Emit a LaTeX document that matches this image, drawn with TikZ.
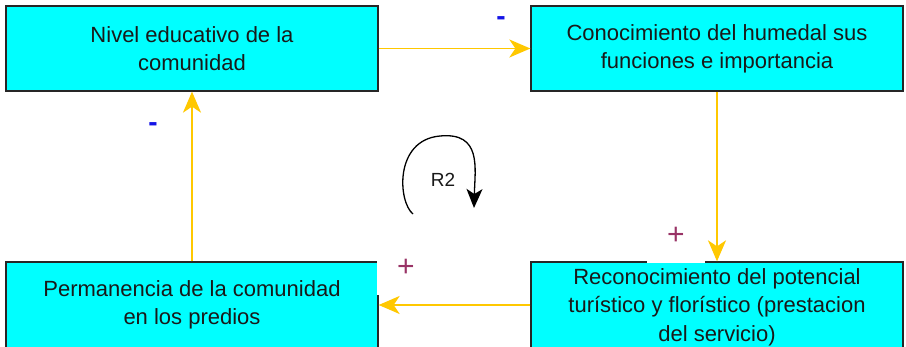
\documentclass[tikz,border=0pt]{standalone}
\usepackage{fontspec}
\setmainfont{Liberation Sans}
\usetikzlibrary{arrows.meta}
\definecolor{boxcyan}{RGB}{0,255,255}
\definecolor{linkyellow}{RGB}{255,200,0}
\definecolor{plusmag}{RGB}{153,51,102}
\definecolor{minusblue}{RGB}{20,20,230}
\begin{document}
\begin{tikzpicture}[x=1pt,y=-1pt,
  varbox/.style={draw=black!85, line width=1.3pt, fill=boxcyan, minimum width=372pt,
    inner sep=0pt, align=center, text=black!90,
    font=\fontsize{22}{28}\selectfont},
  link/.style={draw=linkyellow, line width=1.6pt, -{Stealth[length=21pt,width=18pt,inset=6pt]}},
  plussign/.style={fill=white, minimum width=58pt, minimum height=54pt, inner sep=0pt,
    text=plusmag, font=\fontsize{30}{30}\selectfont},
  minussign/.style={inner sep=0pt, text=minusblue, font=\bfseries\fontsize{28}{28}\selectfont},
  loopline/.style={draw=black, line width=1.3pt, -{Stealth[length=19pt,width=16pt,inset=5pt]}}
]
\useasboundingbox (0,0) rectangle (906,347);
\node[varbox, minimum height=85pt] (tl) at (192,48.5) {Nivel educativo de la\\comunidad};
\node[varbox, minimum height=85pt] (tr) at (717,48.5) {Conocimiento del humedal sus\\funciones e importancia};
\node[varbox, minimum height=86pt] (bl) at (192,305) {Permanencia de la comunidad\\en los predios};
\node[varbox, minimum height=86pt] (br) at (717,305) {};
\node[align=center, text=black!90, font=\fontsize{22}{28.5}\selectfont, inner sep=0pt] (brtext) at (717,307)
  {Reconocimiento del potencial\\tur\'istico y flor\'istico (prestacion\\del servicio)};
\draw[link] (tl.east) -- (tr.west);
\draw[link] (tr.south) -- (br.north);
\draw[link] (br.west) -- (bl.east);
\draw[link] (bl.north) -- (tl.south);
\node[plussign] (p1) at (676,236) {+};
\node[plussign] (p2) at (406,268) {+};
\node[minussign] (m1) at (501,21) {-};
\node[minussign] (m2) at (153,127) {-};
\coordinate (ls) at (413,214);
\coordinate (lt) at (440,136);
\coordinate (le) at (474,208);
\draw[loopline] (ls) .. controls (398,202) and (394,140) .. (lt) .. controls (482,132) and (475,168) .. (le);
\node[text=black!90, font=\fontsize{19}{19}\selectfont, inner sep=0pt] (r2) at (443,180) {R2};
\end{tikzpicture}
\end{document}
